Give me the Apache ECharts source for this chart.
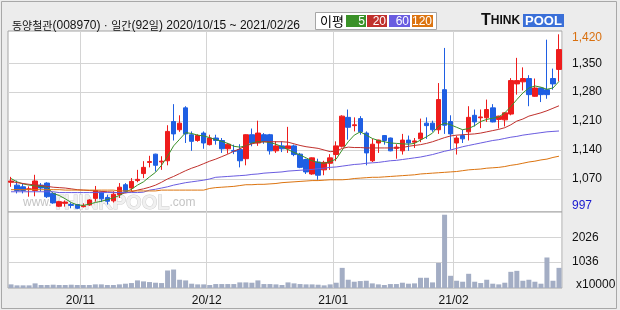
<!DOCTYPE html>
<html><head><meta charset="utf-8">
<script src="https://cdn.jsdelivr.net/npm/echarts@6/dist/echarts.min.js"></script>
<style>html,body{margin:0;padding:0;background:#ececec}#c{width:620px;height:310px}</style>
</head><body><div id="c"></div>
<script>
const dates = [
'2020/10/15','2020/10/16','2020/10/19','2020/10/20','2020/10/21','2020/10/22','2020/10/23','2020/10/26','2020/10/27','2020/10/28','2020/10/29','2020/10/30',
'2020/11/02','2020/11/03','2020/11/04','2020/11/05','2020/11/06','2020/11/09','2020/11/10','2020/11/11','2020/11/12','2020/11/13','2020/11/16','2020/11/17','2020/11/18','2020/11/19','2020/11/20','2020/11/23','2020/11/24','2020/11/25','2020/11/26','2020/11/27','2020/11/30',
'2020/12/01','2020/12/02','2020/12/03','2020/12/04','2020/12/07','2020/12/08','2020/12/09','2020/12/10','2020/12/11','2020/12/14','2020/12/15','2020/12/16','2020/12/17','2020/12/18','2020/12/21','2020/12/22','2020/12/23','2020/12/24','2020/12/28','2020/12/29','2020/12/30',
'2021/01/04','2021/01/05','2021/01/06','2021/01/07','2021/01/08','2021/01/11','2021/01/12','2021/01/13','2021/01/14','2021/01/15','2021/01/18','2021/01/19','2021/01/20','2021/01/21','2021/01/22','2021/01/25','2021/01/26','2021/01/27','2021/01/28','2021/01/29',
'2021/02/01','2021/02/02','2021/02/03','2021/02/04','2021/02/05','2021/02/08','2021/02/09','2021/02/10','2021/02/15','2021/02/16','2021/02/17','2021/02/18','2021/02/19','2021/02/22','2021/02/23','2021/02/24','2021/02/25','2021/02/26'];

const opens  = [1062,1055,1051,1045,1042,1055,1060,1035,1004,1011,1008,1008,1003,1007,1023,1038,1025,1017,1032,1056,1048,1066,1083,1110,1130,1111,1114,1209,1189,1242,1177,1163,1181,1153,1169,1163,1143,1139,1141,1119,1177,1157,1177,1177,1138,1150,1143,1150,1130,1117,1082,1111,1092,1108,1129,1149,1219,1199,1216,1181,1114,1157,1175,1169,1144,1138,1164,1159,1167,1205,1205,1189,1286,1209,1157,1175,1184,1224,1218,1218,1242,1214,1213,1227,1300,1305,1313,1270,1290,1286,1313,1335];
const closes = [1065,1042,1042,1046,1065,1048,1027,1012,1015,1014,1006,999,1005,1019,1042,1022,1016,1033,1050,1040,1064,1069,1098,1112,1103,1113,1185,1179,1205,1179,1161,1175,1157,1169,1163,1143,1154,1137,1114,1177,1157,1181,1161,1138,1150,1143,1150,1129,1098,1087,1121,1079,1110,1121,1150,1222,1195,1201,1184,1133,1154,1164,1163,1138,1147,1164,1157,1162,1181,1199,1189,1262,1200,1179,1169,1167,1219,1208,1220,1238,1208,1222,1230,1308,1308,1313,1274,1290,1274,1274,1300,1383];
const lows   = [1051,1035,1035,1027,1028,1040,1024,1010,1002,1003,999,997,1001,1005,1015,1014,1008,1013,1024,1036,1040,1062,1072,1098,1088,1092,1103,1163,1184,1157,1138,1160,1143,1151,1153,1133,1131,1130,1098,1103,1149,1150,1155,1129,1133,1135,1133,1125,1096,1082,1080,1068,1079,1092,1113,1146,1165,1185,1177,1103,1111,1133,1153,1137,1119,1129,1138,1145,1159,1167,1184,1179,1179,1141,1129,1157,1163,1197,1193,1208,1207,1192,1197,1224,1274,1284,1246,1269,1256,1264,1286,1306];
const highs  = [1075,1066,1059,1052,1080,1060,1062,1037,1017,1018,1013,1009,1011,1021,1053,1040,1032,1040,1060,1060,1072,1092,1113,1126,1131,1125,1200,1251,1224,1246,1185,1178,1185,1177,1177,1169,1157,1153,1154,1178,1192,1211,1181,1179,1161,1161,1196,1153,1133,1119,1122,1119,1114,1130,1161,1224,1238,1219,1222,1185,1167,1165,1176,1170,1154,1179,1175,1169,1216,1219,1211,1302,1387,1224,1175,1189,1246,1238,1238,1262,1251,1223,1231,1314,1363,1340,1321,1313,1291,1407,1337,1420];
const volumes = [145,106,106,106,185,119,119,132,119,119,132,119,119,119,145,145,119,119,145,172,198,304,264,238,211,198,700,739,330,304,172,145,145,119,158,158,158,158,224,224,211,304,158,158,145,119,224,185,158,145,145,132,106,145,211,805,330,251,277,290,185,145,119,158,158,211,172,185,409,409,224,1003,2930,488,290,251,568,251,198,330,172,145,211,647,686,290,330,251,172,1220,290,805];

const ma5   = [1071,1063,1058,1055,1053,1052,1050,1035,1030,1022,1013,1007,1006,1009,1013,1016,1020,1024,1030,1038,1045,1055,1063,1075,1086,1103,1125,1150,1166,1182,1180,1176,1174,1170,1165,1161,1156,1149,1147,1150,1157,1160,1160,1158,1154,1148,1141,1134,1128,1121,1114,1110,1108,1112,1118,1140,1160,1176,1184,1176,1168,1163,1160,1157,1156,1155,1154,1156,1164,1172,1181,1198,1205,1201,1195,1189,1192,1199,1209,1214,1217,1220,1230,1245,1262,1278,1290,1295,1292,1287,1290,1306];
const ma20  = [1064,1061,1059,1057,1056,1054,1052,1050,1049,1048,1046,1044,1043,1042,1041,1040,1039,1038,1036,1036,1039,1043,1046,1050,1055,1062,1070,1076,1083,1090,1096,1101,1107,1113,1118,1124,1130,1137,1143,1150,1155,1158,1160,1160,1160,1160,1159,1155,1151,1148,1146,1144,1140,1136,1137,1144,1147,1146,1146,1145,1145,1145,1145,1145,1145,1146,1149,1151,1153,1156,1160,1165,1170,1174,1176,1177,1178,1179,1181,1184,1187,1190,1194,1201,1210,1215,1222,1226,1230,1235,1241,1247];
const ma60  = [1039,1039,1039,1039,1039,1039,1039,1039,1037,1037,1037,1037,1037,1037,1037,1037,1037,1037,1037,1037,1037,1037,1038,1043,1045,1048,1051,1055,1058,1061,1063,1065,1067,1070,1074,1075,1076,1077,1078,1079,1081,1082,1084,1085,1086,1087,1089,1090,1091,1092,1093,1095,1096,1098,1099,1101,1103,1105,1106,1108,1109,1110,1112,1114,1115,1117,1119,1121,1123,1126,1129,1133,1137,1140,1144,1148,1151,1154,1157,1160,1163,1165,1168,1171,1173,1176,1178,1180,1182,1184,1185,1186];
const ma120 = [1044,1044,1044,1044,1044,1044,1044,1044,1044,1043,1043,1043,1043,1043,1043,1043,1043,1043,1041,1041,1041,1041,1041,1041,1041,1043,1043,1043,1043,1043,1043,1043,1043,1047,1049,1050,1051,1052,1054,1056,1056,1057,1057,1058,1059,1061,1062,1063,1064,1065,1066,1066,1067,1068,1068,1068,1069,1071,1072,1073,1074,1074,1075,1076,1077,1078,1079,1080,1082,1083,1084,1085,1086,1087,1088,1090,1092,1093,1094,1096,1097,1098,1100,1103,1105,1108,1111,1113,1116,1118,1122,1125];

const priceTicks = [1070,1140,1210,1280,1350];
const volTicks = [1036,2026];
const monthStarts = ['2020/11/02','2020/12/01','2021/01/04','2021/02/01'];
const monthLabels = ['20/11','20/12','21/01','21/02'];
const maNames = ['5','20','60','120'];

const C_UP='#ee1c1c', C_DN='#1f5fe3';
const MA_COL=['#3a9128','#c0302c','#6a5ce0','#dc7410'];
const hiVal=Math.max(...highs), loVal=Math.min(...lows);
const numFont='"Liberation Sans", Arial, sans-serif';
const krFont='"Noto Sans CJK KR", sans-serif';

const chart=echarts.init(document.getElementById('c'),null,{renderer:'canvas'});
const isMonth=(i,v)=>monthStarts.indexOf(v)>=0;
const gridLine={color:'#d4d4d4',width:1};

const legendEls=[
 {type:'rect',shape:{x:315.5,y:12.5,width:121,height:17},style:{fill:'#fff',stroke:'#a6a6a6',lineWidth:1},z:10},
 {type:'text',x:320,y:21,style:{text:'이평',fill:'#000',font:'13px '+krFont,textVerticalAlign:'middle'},z:11}
];
const boxX=[346,367,389,412], boxW=[20,20,21,21];
maNames.forEach((n,k)=>{
  legendEls.push({type:'rect',shape:{x:boxX[k],y:15,width:boxW[k],height:12},style:{fill:MA_COL[k]},z:11});
  legendEls.push({type:'text',x:boxX[k]+boxW[k]-1,y:21.5,style:{text:n,fill:'#fff',font:'12px '+numFont,textAlign:'right',textVerticalAlign:'middle'},z:12});
});

const titleRich={
  k:{fontSize:11,fontFamily:'Noto Sans CJK KR',color:'#111'},
  n:{fontSize:12,fontFamily:'Liberation Sans',color:'#111'}
};

const option={
 animation:false,
 backgroundColor:'#ececec',
 title:{text:'{k|동양철관}{n|(008970) · }{k|일간}{n|(92}{k|일}{n|) 2020/10/15 ~ 2021/02/26}',left:7,top:15,
   textStyle:{fontSize:12,fontWeight:'normal',color:'#111',rich:titleRich}},
 graphic:[
  {type:'rect',shape:{x:1.5,y:1.5,width:615,height:307},style:{fill:'none',stroke:'#a8a8a8',lineWidth:1},z:-1},
  ...legendEls,
  {type:'text',x:481,y:21,style:{text:'{a|T}{b|HINK}',rich:{a:{fontSize:16,fontWeight:'bold',fontFamily:numFont,fill:'#111'},b:{fontSize:12,fontWeight:'bold',fontFamily:numFont,fill:'#111'}},textVerticalAlign:'middle'},z:10},
  {type:'rect',shape:{x:523,y:14,width:41,height:13},style:{fill:'#3a6fd8'},z:10},
  {type:'text',x:543.5,y:21,style:{text:'POOL',fill:'#fff',font:'bold 13px '+numFont,textAlign:'center',textVerticalAlign:'middle'},z:11},
  {type:'text',x:23,y:203,style:{text:'{s|www.}{b|THINKPOOL}{s|.com}',rich:{s:{fontSize:12,fontFamily:numFont,fill:'#c4c4c4'},b:{fontSize:20,fontWeight:'bold',fontFamily:numFont,fill:'#f0f0f0',stroke:'#cfcfcf',lineWidth:1}},textVerticalAlign:'middle'},z:1},
  {type:'text',x:576,y:285,style:{text:'x10000',fill:'#111',font:'12px '+numFont,textVerticalAlign:'middle'},z:10}
 ],
 grid:[
  {left:8,top:31,width:554,height:181,show:true,backgroundColor:'#fff',borderColor:'#a4a4a4',borderWidth:1},
  {left:8,top:212,width:554,height:76,show:true,backgroundColor:'#fff',borderColor:'#a4a4a4',borderWidth:1}
 ],
 xAxis:[
  {type:'category',gridIndex:0,data:dates,boundaryGap:true,axisLine:{show:false},axisTick:{show:false},axisLabel:{show:false},
   splitLine:{show:true,interval:isMonth,lineStyle:gridLine}},
  {type:'category',gridIndex:1,data:dates,boundaryGap:true,axisLine:{show:false},axisTick:{show:false},
   axisLabel:{show:true,interval:isMonth,formatter:v=>monthLabels[monthStarts.indexOf(v)],color:'#111',fontSize:12,fontFamily:numFont,margin:7,padding:[0,6,0,0]},
   splitLine:{show:true,interval:isMonth,lineStyle:gridLine}}
 ],
 yAxis:[
  {type:'value',gridIndex:0,position:'right',min:990,max:1428,axisLine:{show:false},
   axisTick:{show:false,customValues:priceTicks},
   splitLine:{show:true,lineStyle:gridLine},
   axisLabel:{customValues:[loVal,...priceTicks,hiVal],margin:10,fontSize:12,fontFamily:numFont,
     formatter:v=>{const s=v.toLocaleString('en-US'); return v===hiVal?'{hi|'+s+'}':(v===loVal?'{lo|'+s+'}':s);},
     color:'#111',
     rich:{hi:{color:'#d9700f',fontSize:12,fontFamily:numFont,padding:[7,0,0,0]},lo:{color:'#1a1ad0',fontSize:12,fontFamily:numFont,padding:[0,0,6,0]}}}},
  {type:'value',gridIndex:1,position:'right',min:0,max:3039,axisLine:{show:false},
   axisTick:{show:false,customValues:volTicks},
   splitLine:{show:true,lineStyle:gridLine},
   axisLabel:{customValues:volTicks,margin:10,fontSize:12,fontFamily:numFont,color:'#111',formatter:v=>String(v)}}
 ],
 series:[
  {type:'candlestick',xAxisIndex:0,yAxisIndex:0,barWidth:5,
   data:dates.map((d,i)=>[opens[i],closes[i],lows[i],highs[i]]),
   itemStyle:{color:C_UP,color0:C_DN,borderColor:C_UP,borderColor0:C_DN,borderWidth:1},z:3},
  ...[ma5,ma20,ma60,ma120].map((arr,k)=>({type:'line',name:maNames[k],xAxisIndex:0,yAxisIndex:0,data:arr,symbol:'none',
     lineStyle:{color:MA_COL[k],width:1},z:4})),
  {type:'bar',xAxisIndex:1,yAxisIndex:1,data:volumes,barWidth:5,itemStyle:{color:'#a3adc4'}}
 ]
};
chart.setOption(option);
</script></body></html>
